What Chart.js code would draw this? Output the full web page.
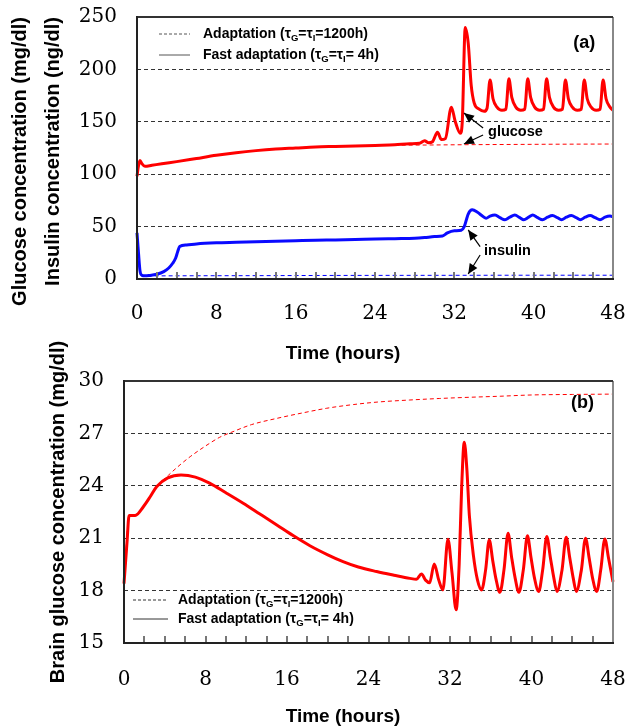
<!DOCTYPE html>
<html><head><meta charset="utf-8">
<script src="https://cdn.jsdelivr.net/npm/chart.js@4.4.1/dist/chart.umd.min.js"></script>
<style>
html,body{margin:0;padding:0;background:#fff;}
#wrap{position:relative;width:626px;height:728px;overflow:hidden;}
#ca{position:absolute;left:0;top:0;}
#cb{position:absolute;left:0;top:300px;}
</style></head><body>
<div id="wrap"><canvas id="ca" width="626" height="370"></canvas><canvas id="cb" width="626" height="428"></canvas></div>
<script>
// ---------- tick labels ----------
const timeTicks = [0, 8, 16, 24, 32, 40, 48];
const minorTimeTicks = [0,2,4,6,8,10,12,14,16,18,20,22,24,26,28,30,32,34,36,38,40,42,44,46,48];
const concTicks = [0, 50, 100, 150, 200, 250];
const brainTicks = [15, 18, 21, 24, 27, 30];

// ---------- panel (a): [time h, value] ----------
const glucoseFast = [[0,98],[0.15,108],[0.3,113],[0.5,110],[0.8,107.5],[1.5,108.5],[2.5,110],[4,112],[6,115],[8,118],[10,120.5],[12,122.5],[14,124],[16,125],[18,126],[20,126.5],[22,127],[24,127.5],[26,128],[27.5,129],[28.5,129.5],[29,132],[29.4,130],[29.8,131],[30.3,140],[30.7,133],[31.1,134],[31.7,164],[32.1,150],[32.6,139],[32.8,150],[33.1,240],[33.4,225],[33.7,185],[34.0,168],[34.5,162],[35.0,160],[35.3,163],[35.6,190],[35.9,172],[36.3,164],[36.8,161],[37.2,162],[37.5,191],[37.8,173],[38.2,164],[38.7,161],[39.1,162],[39.4,191],[39.7,173],[40.1,164],[40.6,161],[41.0,162],[41.3,191],[41.6,173],[42.0,164],[42.5,161],[42.9,162],[43.2,190],[43.5,172],[43.9,164],[44.4,161],[44.8,162],[45.1,190],[45.4,172],[45.8,164],[46.3,161],[46.7,162],[47.0,190],[47.3,172],[47.7,164],[48,161]];
const glucoseAdapt = [[0,98],[0.3,112],[0.8,107.5],[2.5,110],[6,115],[10,120.5],[14,124],[18,126],[22,127],[26,127.6],[30,127.9],[34,128.2],[38,128.4],[42,128.6],[48,128.8]];
const insulinFast = [[0,44],[0.15,25],[0.3,8],[0.5,3.5],[0.8,3],[1.2,3.3],[2,4.5],[2.7,7],[3.2,10.5],[3.6,15],[3.9,20],[4.1,26],[4.3,31],[5,32.5],[6,33.5],[8,34.5],[10,35],[12,35.5],[14,36],[16,36.5],[18,37],[20,37.3],[22,37.7],[24,38.2],[26,38.5],[28,38.8],[29,39.5],[30,40.5],[30.8,41],[31.3,44],[32,46],[32.7,46.5],[33.0,50],[33.4,62],[33.8,66],[34.3,64],[34.7,61],[35.2,58],[35.6,60],[36.1,61],[36.6,58.5],[37.1,56.5],[37.6,59],[38.1,61],[38.6,58.5],[39.0,56.5],[39.5,59],[39.9,61],[40.4,58.5],[40.9,56.5],[41.4,59],[41.9,60.5],[42.4,58.5],[42.8,56.5],[43.3,59],[43.8,60.5],[44.3,58.5],[44.7,56.5],[45.2,59],[45.7,60.5],[46.2,58.5],[46.7,56.5],[47.2,59],[47.7,60],[48,59.5]];
const insulinAdapt = [[0,44],[0.3,8],[0.6,3],[1.5,3],[6,3.1],[12,3.2],[20,3.4],[30,3.5],[40,3.6],[48,3.6]];

// ---------- panel (b): [time h, value] ----------
const brainFast = [[0,18.4],[0.3,20.8],[0.5,22.3],[1.1,22.3],[1.9,22.8],[2.6,23.4],[3.2,23.95],[4.3,24.45],[5.6,24.62],[7,24.5],[8.4,24.15],[10,23.6],[11.7,23.0],[13.3,22.4],[15,21.76],[16.6,21.15],[18.25,20.57],[20,20.05],[21.5,19.66],[23,19.35],[24.8,19.09],[26.5,18.88],[28.06,18.7],[28.7,18.65],[29.2,18.95],[29.6,18.6],[30,18.45],[30.45,19.52],[30.9,18.6],[31.3,18.04],[31.8,20.94],[32.2,19.0],[32.6,16.9],[32.9,19.5],[33.15,24.0],[33.4,26.5],[33.65,25.0],[33.9,22.3],[34.3,20.0],[34.7,18.6],[35.1,18.04],[35.5,19.2],[35.85,20.9],[36.2,19.7],[36.5,18.7],[36.9,17.9],[37.3,19.2],[37.7,21.28],[38.05,19.9],[38.4,18.7],[38.76,17.9],[39.2,19.2],[39.6,21.14],[39.95,19.9],[40.3,18.7],[40.7,17.95],[41.1,19.2],[41.5,21.1],[41.85,19.9],[42.2,18.7],[42.5,17.95],[43.0,19.2],[43.4,21.05],[43.75,19.9],[44.1,18.7],[44.4,17.95],[44.9,19.2],[45.3,21.0],[45.65,19.9],[46.0,18.7],[46.4,17.95],[46.8,19.2],[47.2,20.96],[47.55,19.9],[48,18.5]];
const brainAdapt = [[0,18.4],[0.5,22.3],[1.1,22.3],[1.9,22.8],[3.2,23.95],[4.35,24.6],[5.5,25.2],[6.5,25.67],[8.4,26.43],[9.4,26.78],[10.7,27.1],[12.5,27.5],[15,27.86],[17.5,28.17],[19.9,28.44],[22.5,28.65],[25,28.8],[28,28.91],[31,29.0],[34,29.07],[37,29.13],[40,29.2],[44,29.23],[48,29.25]];

const SANS = '"Liberation Sans", Arial, sans-serif';
const SERIF = '"DejaVu Serif", serif';
const toXY = arr => arr.map(p => ({x: p[0], y: p[1]}));

function richText(ctx, x, y, segs, size) {
  let cx = x;
  ctx.textBaseline = 'middle'; ctx.textAlign = 'left';
  for (const [t, sub] of segs) {
    const fs = sub ? size * 0.68 : size;
    ctx.font = `bold ${fs}px ${SANS}`;
    ctx.fillText(t, cx, y + (sub ? size * 0.32 : 0));
    cx += ctx.measureText(t).width;
  }
}
function arrow(ctx, x1, y1, x2, y2) {
  ctx.beginPath(); ctx.moveTo(x1, y1); ctx.lineTo(x2, y2); ctx.stroke();
  const ang = Math.atan2(y2 - y1, x2 - x1), L = 10, W = 4.5;
  ctx.beginPath();
  ctx.moveTo(x2, y2);
  ctx.lineTo(x2 - L * Math.cos(ang) + W * Math.sin(ang), y2 - L * Math.sin(ang) - W * Math.cos(ang));
  ctx.lineTo(x2 - L * Math.cos(ang) - W * Math.sin(ang), y2 - L * Math.sin(ang) + W * Math.cos(ang));
  ctx.closePath(); ctx.fill();
}

const deco = {
  id: 'deco',
  afterDraw(chart, args, o) {
    const ctx = chart.ctx, a = chart.chartArea, xs = chart.scales.x, ys = chart.scales.y;
    const L = (x1, y1, x2, y2) => { ctx.beginPath(); ctx.moveTo(x1, y1); ctx.lineTo(x2, y2); ctx.stroke(); };
    ctx.save();
    ctx.strokeStyle = '#777'; ctx.lineWidth = 2;
    for (const t of minorTimeTicks) {
      const px = Math.round(xs.getPixelForValue(t));
      L(px, a.bottom, px, a.bottom - 7);
    }
    ctx.lineWidth = 2;
    ctx.strokeStyle = '#888'; L(a.right, a.top, a.right, a.bottom);
    ctx.strokeStyle = '#333'; L(a.left, a.top, a.right, a.top);
    ctx.strokeStyle = '#222'; L(a.left, a.top - 1, a.left, a.bottom + 1); L(a.left, a.bottom, a.right + 1, a.bottom);
    const lg = o.legend;
    ctx.fillStyle = '#000';
    lg.rows.forEach((yy, i) => {
      const y = a.top + yy;
      ctx.strokeStyle = lg.sampleColor; ctx.lineWidth = 1;
      ctx.setLineDash(i === 0 ? [3, 2] : []);
      L(a.left + lg.x1, y, a.left + lg.x2, y);
      ctx.setLineDash([]);
      richText(ctx, a.left + lg.tx, y, lg.texts[i], 14);
    });
    ctx.fillStyle = '#000';
    ctx.font = `bold 18px ${SANS}`; ctx.textAlign = 'center'; ctx.textBaseline = 'middle';
    ctx.fillText(o.tag.text, xs.getPixelForValue(o.tag.at[0]), ys.getPixelForValue(o.tag.at[1]));
    ctx.lineWidth = 1.2; ctx.strokeStyle = '#000';
    for (const n of (o.notes || [])) {
      ctx.font = `bold 14.5px ${SANS}`; ctx.textAlign = 'left'; ctx.textBaseline = 'middle';
      ctx.fillText(n.text, xs.getPixelForValue(n.at[0]), ys.getPixelForValue(n.at[1]));
      for (const ar of n.arrows) {
        arrow(ctx, xs.getPixelForValue(ar[0]), ys.getPixelForValue(ar[1]), xs.getPixelForValue(ar[2]), ys.getPixelForValue(ar[3]));
      }
    }
    ctx.font = `bold 19px ${SANS}`; ctx.textAlign = 'center'; ctx.textBaseline = 'middle';
    ctx.fillText(o.xTitle, 343, o.xTitleY);
    ctx.restore();
  }
};

function lineDs(label, arr, color, dashed) {
  return {
    label, data: toXY(arr), borderColor: color, backgroundColor: color,
    borderWidth: dashed ? 1 : 3, borderDash: dashed ? [4, 3] : [],
    pointRadius: 0, fill: false, cubicInterpolationMode: 'monotone', clip: 4
  };
}
function gridColor(lo, hi) {
  return c => (c.tick && (c.tick.value === lo || c.tick.value === hi)) ? 'rgba(0,0,0,0)' : '#333';
}
const legendTexts = [
  [['Adaptation (τ', 0], ['G', 1], ['=τ', 0], ['I', 1], ['=1200h)', 0]],
  [['Fast adaptation (τ', 0], ['G', 1], ['=τ', 0], ['I', 1], ['= 4h)', 0]]
];
const noPad = s => { s.paddingTop = 0; s.paddingBottom = 0; s.paddingLeft = 0; s.paddingRight = 0; };
const xAxis = (h, pad) => ({
  type: 'linear', min: 0, max: 48,
  afterBuildTicks: s => { s.ticks = timeTicks.map(v => ({value: v})); },
  afterFit: s => { s.height = h; noPad(s); },
  grid: {display: false}, border: {display: false},
  ticks: {font: {family: SERIF, size: 20}, color: '#000', padding: pad, maxRotation: 0, autoSkip: false}
});

new Chart(document.getElementById('ca'), {
  type: 'line',
  data: {datasets: [
    lineDs('Glucose, adaptation (τG=τI=1200h)', glucoseAdapt, '#ff0000', true),
    lineDs('Insulin, adaptation (τG=τI=1200h)', insulinAdapt, '#0000ff', true),
    lineDs('Glucose, fast adaptation (τG=τI=4h)', glucoseFast, '#ff0000', false),
    lineDs('Insulin, fast adaptation (τG=τI=4h)', insulinFast, '#0a0aff', false)
  ]},
  options: {
    responsive: false, animation: false, devicePixelRatio: 1,
    layout: {padding: {left: 0, top: 17, right: 13, bottom: 0}, autoPadding: false},
    plugins: {
      legend: {display: false}, tooltip: {enabled: false},
      deco: {
        legend: {x1: 22, x2: 53, tx: 66, rows: [17, 38], sampleColor: '#555', texts: legendTexts},
        tag: {text: '(a)', at: [45.1, 225.5]},
        notes: [
          {text: 'glucose', at: [35.4, 140.6], arrows: [[34.9, 144, 32.97, 158.4], [34.9, 137.4, 32.97, 128.8]]},
          {text: 'insulin', at: [35.0, 27], arrows: [[34.6, 30.8, 33.4, 46.8], [34.6, 22.9, 33.4, 4.8]]}
        ],
        xTitle: 'Time (hours)', xTitleY: 354
      }
    },
    scales: {
      x: xAxis(91, 15),
      y: {
        min: 0, max: 250,
        afterBuildTicks: s => { s.ticks = concTicks.map(v => ({value: v})); },
        afterFit: s => { s.width = 137; noPad(s); },
        grid: {color: gridColor(0, 250), lineWidth: 1, drawTicks: false},
        border: {display: false, dash: [4, 3]},
        ticks: {font: {family: SERIF, size: 20}, color: '#000', padding: 20},
        title: {display: true, text: ['Glucose concentration (mg/dl)', 'Insulin concentration (ng/dl)'], align: 'end',
          color: '#000', font: {family: SANS, size: 20, weight: 'bold', lineHeight: '33px'}, padding: {top: 4, bottom: 0}}
      }
    }
  },
  plugins: [deco]
});

new Chart(document.getElementById('cb'), {
  type: 'line',
  data: {datasets: [
    lineDs('Brain glucose, adaptation (τG=τI=1200h)', brainAdapt, '#ff0000', true),
    lineDs('Brain glucose, fast adaptation (τG=τI=4h)', brainFast, '#ff0000', false)
  ]},
  options: {
    responsive: false, animation: false, devicePixelRatio: 1,
    layout: {padding: {left: 0, top: 81, right: 13, bottom: 0}, autoPadding: false},
    plugins: {
      legend: {display: false}, tooltip: {enabled: false},
      deco: {
        legend: {x1: 9, x2: 44, tx: 54, rows: [219, 238], sampleColor: '#333', texts: legendTexts},
        tag: {text: '(b)', at: [45.0, 28.72]},
        notes: [],
        xTitle: 'Time (hours)', xTitleY: 417
      }
    },
    scales: {
      x: xAxis(85, 17),
      y: {
        min: 15, max: 30,
        afterBuildTicks: s => { s.ticks = brainTicks.map(v => ({value: v})); },
        afterFit: s => { s.width = 124; noPad(s); },
        grid: {color: gridColor(15, 30), lineWidth: 1, drawTicks: false},
        border: {display: false, dash: [4, 3]},
        ticks: {font: {family: SERIF, size: 20}, color: '#000', padding: 20},
        title: {display: true, text: 'Brain glucose concentration (mg/dl)',
          color: '#000', font: {family: SANS, size: 20, weight: 'bold'}, padding: {top: 46, bottom: 0}}
      }
    }
  },
  plugins: [deco]
});
</script>
</body></html>
